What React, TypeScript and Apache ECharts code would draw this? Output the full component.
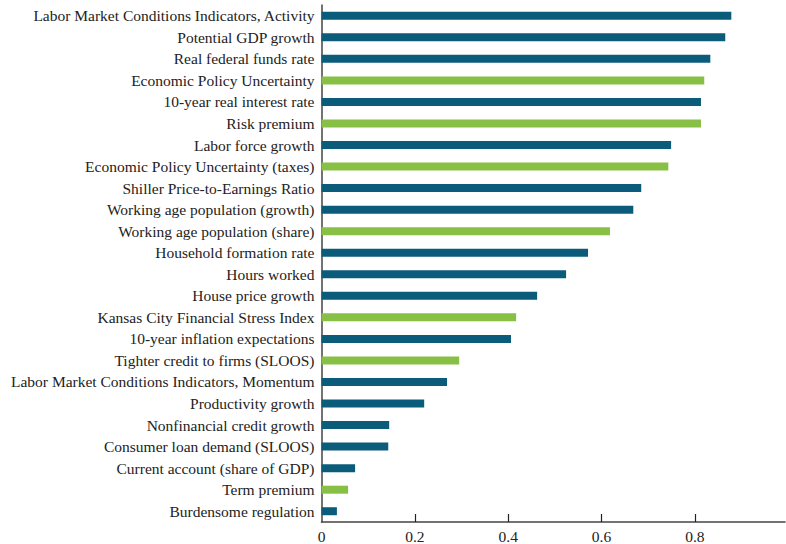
import React, { useEffect, useRef } from "react";
import * as echarts from "echarts";

const categories = [
  "Labor Market Conditions Indicators, Activity",
  "Potential GDP growth",
  "Real federal funds rate",
  "Economic Policy Uncertainty",
  "10-year real interest rate",
  "Risk premium",
  "Labor force growth",
  "Economic Policy Uncertainty (taxes)",
  "Shiller Price-to-Earnings Ratio",
  "Working age population (growth)",
  "Working age population (share)",
  "Household formation rate",
  "Hours worked",
  "House price growth",
  "Kansas City Financial Stress Index",
  "10-year inflation expectations",
  "Tighter credit to firms (SLOOS)",
  "Labor Market Conditions Indicators, Momentum",
  "Productivity growth",
  "Nonfinancial credit growth",
  "Consumer loan demand (SLOOS)",
  "Current account (share of GDP)",
  "Term premium",
  "Burdensome regulation",
];

const values = [
  0.878, 0.865, 0.833, 0.82, 0.813, 0.813, 0.749, 0.743, 0.685, 0.668, 0.618,
  0.571, 0.524, 0.462, 0.417, 0.406, 0.295, 0.269, 0.22, 0.145, 0.143, 0.072,
  0.057, 0.033,
];

// 1 = green group, 0 = blue group
const groups = [0, 0, 0, 1, 0, 1, 0, 1, 0, 0, 1, 0, 0, 0, 1, 0, 1, 0, 0, 0, 0, 0, 1, 0];

const tickValues = [0, 0.2, 0.4, 0.6, 0.8];

const BLUE = "#0b5b7a";
const GREEN = "#88bf45";
const FONT = "'Liberation Serif', 'DejaVu Serif', serif";

export default function App() {
  const ref = useRef<HTMLDivElement>(null);
  useEffect(() => {
    if (!ref.current) return;
    const chart = echarts.init(ref.current, null, { renderer: "svg" });
    chart.setOption({
      animation: false,
      grid: { left: 321.5, right: 1, top: 5, bottom: 21.5, containLabel: false },
      xAxis: {
        type: "value",
        min: 0,
        max: 0.993,
        splitLine: { show: false },
        axisLine: { show: true, lineStyle: { color: "#444", width: 1.5 } },
        axisTick: {
          show: true,
          inside: true,
          length: 8,
          customValues: tickValues.slice(1),
          lineStyle: { color: "#222", width: 1.2 },
        },
        axisLabel: {
          customValues: tickValues,
          formatter: (v: number) => (v === 0 ? "0" : String(v)),
          fontFamily: FONT,
          fontSize: 15.5,
          color: "#222",
          margin: 6,
        },
      },
      yAxis: {
        type: "category",
        data: categories,
        inverse: true,
        axisLine: { show: true, lineStyle: { color: "#444", width: 1.5 } },
        axisTick: { show: false },
        axisLabel: {
          fontFamily: FONT,
          fontSize: 15.5,
          color: "#222",
          margin: 7,
        },
      },
      series: [
        {
          type: "bar",
          barWidth: 8,
          data: values.map((v, i) => ({
            value: v,
            itemStyle: { color: groups[i] ? GREEN : BLUE },
          })),
        },
      ],
    });
    return () => chart.dispose();
  }, []);
  return <div ref={ref} style={{ width: 786, height: 544, position: "absolute", left: 0, top: 0 }} />;
}
